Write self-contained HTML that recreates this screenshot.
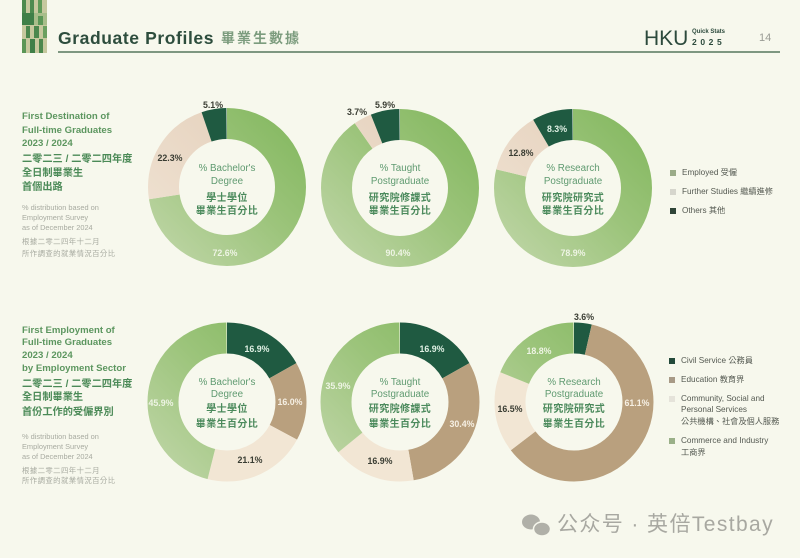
<!DOCTYPE html>
<html><head><meta charset="utf-8">
<style>
html,body{margin:0;padding:0;}
body{width:800px;height:558px;background:#f7f8ed;position:relative;overflow:hidden;font-family:"Liberation Sans","Noto Sans CJK TC",sans-serif;}
.a{position:absolute;white-space:nowrap;line-height:1;}
.h{color:#5c965f;font-weight:bold;font-size:9.6px;}
.c{color:#4b8a57;font-weight:bold;font-size:10.2px;letter-spacing:0px;font-family:"Liberation Sans","Noto Sans CJK TC",sans-serif;}
.g{color:#a8aba1;font-size:7.4px;}
.gc{color:#a8aba1;font-size:7.4px;letter-spacing:0.4px;}
.lg{color:#555a52;font-size:8.2px;}
.sq{position:absolute;width:6px;height:6px;}
</style></head><body>

<!-- logo -->
<svg class="a" style="left:22px;top:0" width="25" height="53">
<rect x="0" y="0" width="25" height="53" fill="#c6c89e"/>
<rect x="0" y="0" width="4" height="13" fill="#4d8a4f"/><rect x="8" y="0" width="4" height="13" fill="#4d8a4f"/><rect x="16" y="0" width="4" height="13" fill="#5f9a58"/>
<rect x="0" y="13" width="12" height="12" fill="#3f7f48"/><rect x="12" y="13" width="13" height="12" fill="#a8bd8a"/><rect x="16" y="16" width="5" height="9" fill="#5a9656"/>
<rect x="4" y="26" width="4" height="12" fill="#4b874d"/><rect x="12" y="26" width="5" height="12" fill="#4b874d"/><rect x="21" y="26" width="4" height="12" fill="#6aa060"/>
<rect x="0" y="39" width="4" height="14" fill="#5a9656"/><rect x="8" y="39" width="5" height="14" fill="#3f7f48"/><rect x="17" y="39" width="4" height="14" fill="#4b874d"/>
</svg>

<!-- header -->
<div class="a" style="left:58px;top:30px;font-size:17.5px;font-weight:bold;color:#2d4d3d;letter-spacing:0.6px;">Graduate Profiles</div>
<div class="a" style="left:221px;top:31px;font-size:14px;font-weight:bold;color:#7c9c7e;letter-spacing:2px;">畢業生數據</div>
<div class="a" style="left:58px;top:51px;width:722px;height:2px;background:#7e9781;"></div>
<div class="a" style="left:644px;top:28px;font-size:21px;color:#2c4a3c;">HKU</div>
<div class="a" style="left:692px;top:29px;font-size:6px;font-weight:bold;color:#2c4a3c;">Quick Stats</div>
<div class="a" style="left:692px;top:38px;font-size:8.5px;font-weight:bold;color:#2c4a3c;letter-spacing:3.6px;">2025</div>
<div class="a" style="left:759px;top:33px;font-size:11px;color:#9a9c95;">14</div>

<!-- top left text -->
<div class="a h" style="left:22px;top:112px;">First Destination of</div>
<div class="a h" style="left:22px;top:126px;">Full-time Graduates</div>
<div class="a h" style="left:22px;top:139px;">2023 / 2024</div>
<div class="a c" style="left:22px;top:155px;">二零二三 / 二零二四年度</div>
<div class="a c" style="left:22px;top:169px;">全日制畢業生</div>
<div class="a c" style="left:22px;top:183px;">首個出路</div>
<div class="a g" style="left:22px;top:204px;">% distribution based on</div>
<div class="a g" style="left:22px;top:214px;">Employment Survey</div>
<div class="a g" style="left:22px;top:224px;">as of December 2024</div>
<div class="a gc" style="left:22px;top:238px;">根據二零二四年十二月</div>
<div class="a gc" style="left:22px;top:250px;">所作調查的就業情況百分比</div>

<!-- bottom left text -->
<div class="a h" style="left:22px;top:326px;">First Employment of</div>
<div class="a h" style="left:22px;top:338px;">Full-time Graduates</div>
<div class="a h" style="left:22px;top:351px;">2023 / 2024</div>
<div class="a h" style="left:22px;top:364px;">by Employment Sector</div>
<div class="a c" style="left:22px;top:380px;">二零二三 / 二零二四年度</div>
<div class="a c" style="left:22px;top:393px;">全日制畢業生</div>
<div class="a c" style="left:22px;top:408px;">首份工作的受僱界別</div>
<div class="a g" style="left:22px;top:433px;">% distribution based on</div>
<div class="a g" style="left:22px;top:443px;">Employment Survey</div>
<div class="a g" style="left:22px;top:453px;">as of December 2024</div>
<div class="a gc" style="left:22px;top:467px;">根據二零二四年十二月</div>
<div class="a gc" style="left:22px;top:477px;">所作調查的就業情況百分比</div>

<svg class="a" style="left:0;top:0" width="800" height="558">
<defs>
<linearGradient id="gr" x1="0" y1="0" x2="1" y2="1"><stop offset="0" stop-color="#bcd4a3"/><stop offset="0.55" stop-color="#9cc47b"/><stop offset="1" stop-color="#86b962"/></linearGradient>
<linearGradient id="bg" x1="0" y1="0" x2="1" y2="1"><stop offset="0" stop-color="#efe2d2"/><stop offset="1" stop-color="#e4cfba"/></linearGradient>
</defs>
<g fill="none" stroke-width="31">
<!-- top 1 -->
<g transform="rotate(-90 227 187)">
<circle cx="227" cy="187" r="63.5" pathLength="100" stroke="url(#gr)" stroke-dasharray="72.6 100" stroke-dashoffset="0"/>
<circle cx="227" cy="187" r="63.5" pathLength="100" stroke="url(#bg)" stroke-dasharray="22.3 100" stroke-dashoffset="-72.6"/>
<circle cx="227" cy="187" r="63.5" pathLength="100" stroke="#1f5a41" stroke-dasharray="5.1 100" stroke-dashoffset="-94.9"/>
</g>
<!-- top 2 -->
<g transform="rotate(-90 400 188)">
<circle cx="400" cy="188" r="63.5" pathLength="100" stroke="url(#gr)" stroke-dasharray="90.4 100" stroke-dashoffset="0"/>
<circle cx="400" cy="188" r="63.5" pathLength="100" stroke="url(#bg)" stroke-dasharray="3.7 100" stroke-dashoffset="-90.4"/>
<circle cx="400" cy="188" r="63.5" pathLength="100" stroke="#1f5a41" stroke-dasharray="5.9 100" stroke-dashoffset="-94.1"/>
</g>
<!-- top 3 -->
<g transform="rotate(-90 573 188)">
<circle cx="573" cy="188" r="63.5" pathLength="100" stroke="url(#gr)" stroke-dasharray="78.9 100" stroke-dashoffset="0"/>
<circle cx="573" cy="188" r="63.5" pathLength="100" stroke="url(#bg)" stroke-dasharray="12.8 100" stroke-dashoffset="-78.9"/>
<circle cx="573" cy="188" r="63.5" pathLength="100" stroke="#1f5a41" stroke-dasharray="8.3 100" stroke-dashoffset="-91.7"/>
</g>
<!-- bottom 1 -->
<g transform="rotate(-90 227 402)">
<circle cx="227" cy="402" r="64" pathLength="100" stroke="#1f5a41" stroke-dasharray="16.9 100" stroke-dashoffset="0"/>
<circle cx="227" cy="402" r="64" pathLength="100" stroke="#b9a07e" stroke-dasharray="16.0 100" stroke-dashoffset="-16.9"/>
<circle cx="227" cy="402" r="64" pathLength="100" stroke="#f2e6d4" stroke-dasharray="21.1 100" stroke-dashoffset="-32.9"/>
<circle cx="227" cy="402" r="64" pathLength="100" stroke="url(#gr)" stroke-dasharray="46.0 100" stroke-dashoffset="-54"/>
</g>
<!-- bottom 2 -->
<g transform="rotate(-90 400 402)">
<circle cx="400" cy="402" r="64" pathLength="100" stroke="#1f5a41" stroke-dasharray="16.9 100" stroke-dashoffset="0"/>
<circle cx="400" cy="402" r="64" pathLength="100" stroke="#b9a07e" stroke-dasharray="30.4 100" stroke-dashoffset="-16.9"/>
<circle cx="400" cy="402" r="64" pathLength="100" stroke="#f2e6d4" stroke-dasharray="16.9 100" stroke-dashoffset="-47.3"/>
<circle cx="400" cy="402" r="64" pathLength="100" stroke="url(#gr)" stroke-dasharray="35.8 100" stroke-dashoffset="-64.2"/>
</g>
<!-- bottom 3 -->
<g transform="rotate(-90 574 402)">
<circle cx="574" cy="402" r="64" pathLength="100" stroke="#1f5a41" stroke-dasharray="3.6 100" stroke-dashoffset="0"/>
<circle cx="574" cy="402" r="64" pathLength="100" stroke="#b9a07e" stroke-dasharray="61.1 100" stroke-dashoffset="-3.6"/>
<circle cx="574" cy="402" r="64" pathLength="100" stroke="#f2e6d4" stroke-dasharray="16.5 100" stroke-dashoffset="-64.7"/>
<circle cx="574" cy="402" r="64" pathLength="100" stroke="url(#gr)" stroke-dasharray="18.8 100" stroke-dashoffset="-81.2"/>
</g>
</g>

<!-- center texts -->
<g text-anchor="middle" font-family="Liberation Sans, Noto Sans CJK TC, sans-serif">
<g font-size="9.8" fill="#5f9a70">
<text x="227" y="171">% Bachelor's</text><text x="227" y="184">Degree</text>
<text x="400" y="171">% Taught</text><text x="400" y="184">Postgraduate</text>
<text x="573" y="171">% Research</text><text x="573" y="184">Postgraduate</text>
<text x="227" y="385">% Bachelor's</text><text x="227" y="397">Degree</text>
<text x="400" y="385">% Taught</text><text x="400" y="397">Postgraduate</text>
<text x="574" y="385">% Research</text><text x="574" y="397">Postgraduate</text>
</g>
<g font-size="10" fill="#4b8a5c" font-weight="bold" letter-spacing="0.4">
<text x="227" y="201">學士學位</text><text x="227" y="214">畢業生百分比</text>
<text x="400" y="201">研究院修課式</text><text x="400" y="214">畢業生百分比</text>
<text x="573" y="201">研究院研究式</text><text x="573" y="214">畢業生百分比</text>
<text x="227" y="412">學士學位</text><text x="227" y="427">畢業生百分比</text>
<text x="400" y="412">研究院修課式</text><text x="400" y="427">畢業生百分比</text>
<text x="574" y="412">研究院研究式</text><text x="574" y="427">畢業生百分比</text>
</g>
<!-- percentage labels -->
<g font-size="8.8" font-weight="bold">
<text x="213" y="108" fill="#3a3d33">5.1%</text>
<text x="170" y="161" fill="#3a3d33">22.3%</text>
<text x="225" y="256" fill="#eef4e4">72.6%</text>
<text x="357" y="115" fill="#3a3d33">3.7%</text>
<text x="385" y="108" fill="#3a3d33">5.9%</text>
<text x="398" y="256" fill="#eef4e4">90.4%</text>
<text x="557" y="132" fill="#dff0e4">8.3%</text>
<text x="521" y="156" fill="#3a3d33">12.8%</text>
<text x="573" y="256" fill="#eef4e4">78.9%</text>
<text x="257" y="352" fill="#dff0e4">16.9%</text>
<text x="290" y="405" fill="#f6f0e4">16.0%</text>
<text x="250" y="463" fill="#3a3d33">21.1%</text>
<text x="161" y="406" fill="#eef4e4">45.9%</text>
<text x="432" y="352" fill="#dff0e4">16.9%</text>
<text x="462" y="427" fill="#f6f0e4">30.4%</text>
<text x="380" y="464" fill="#3a3d33">16.9%</text>
<text x="338" y="389" fill="#eef4e4">35.9%</text>
<text x="584" y="320" fill="#3a3d33">3.6%</text>
<text x="539" y="354" fill="#eef4e4">18.8%</text>
<text x="510" y="412" fill="#3a3d33">16.5%</text>
<text x="637" y="406" fill="#f6f0e4">61.1%</text>
</g>
</g>

<!-- wechat icon -->
<g fill="#b0b0a8">
<ellipse cx="531" cy="522" rx="9" ry="7.5"/>
<ellipse cx="542" cy="529" rx="8.5" ry="7" stroke="#f7f8ed" stroke-width="1.5"/>
</g>
</svg>

<!-- top legend -->
<div class="sq" style="left:670px;top:170px;background:#9aab88;"></div>
<div class="a lg" style="left:682px;top:169px;">Employed 受僱</div>
<div class="sq" style="left:670px;top:189px;background:#d6d6cd;"></div>
<div class="a lg" style="left:682px;top:188px;">Further Studies 繼續進修</div>
<div class="sq" style="left:670px;top:208px;background:#2f4538;"></div>
<div class="a lg" style="left:682px;top:207px;">Others 其他</div>

<!-- bottom legend -->
<div class="sq" style="left:669px;top:358px;background:#234a3a;"></div>
<div class="a lg" style="left:681px;top:357px;">Civil Service 公務員</div>
<div class="sq" style="left:669px;top:377px;background:#a89a86;"></div>
<div class="a lg" style="left:681px;top:376px;">Education 教育界</div>
<div class="sq" style="left:669px;top:396px;background:#e5e3da;"></div>
<div class="a lg" style="left:681px;top:395px;">Community, Social and</div>
<div class="a lg" style="left:681px;top:406px;">Personal Services</div>
<div class="a lg" style="left:681px;top:418px;">公共機構、社會及個人服務</div>
<div class="sq" style="left:669px;top:438px;background:#9ab088;"></div>
<div class="a lg" style="left:681px;top:437px;">Commerce and Industry</div>
<div class="a lg" style="left:681px;top:449px;">工商界</div>

<!-- watermark -->
<div class="a" style="left:557px;top:514px;font-size:21px;color:#a8a8a1;font-family:'Liberation Sans','Noto Sans CJK SC',sans-serif;letter-spacing:1.4px;">公众号 · 英倍Testbay</div>

</body></html>
